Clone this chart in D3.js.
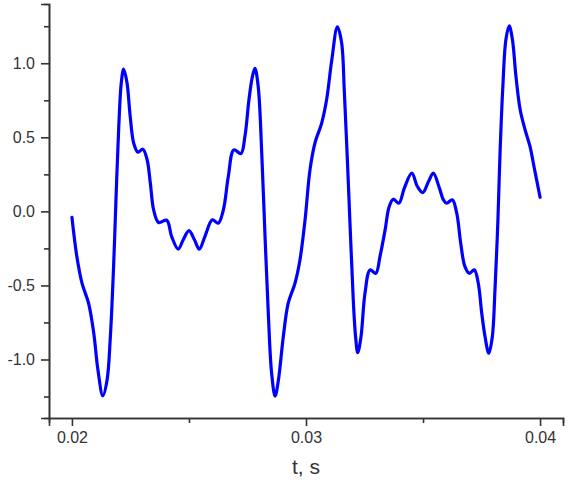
<!DOCTYPE html>
<html>
<head>
<meta charset="utf-8">
<script src="https://cdn.jsdelivr.net/npm/d3@7"></script>
<style>
  html, body { margin: 0; padding: 0; background: #ffffff; }
  svg { display: block; }
</style>
</head>
<body>
<svg id="chart" width="568" height="486"></svg>
<script>
// ---- data ----
const timeValues = [
  0.02000, 0.02021, 0.02043, 0.02071, 0.02093, 0.02111, 0.02132, 0.02150, 0.02164, 0.02178,
  0.02189, 0.02200, 0.02211, 0.02221, 0.02235, 0.02249, 0.02264, 0.02282, 0.02303, 0.02321,
  0.02335, 0.02349, 0.02370, 0.02405, 0.02426, 0.02454, 0.02476, 0.02500, 0.02523, 0.02544,
  0.02568, 0.02600, 0.02625, 0.02647, 0.02668, 0.02692, 0.02722, 0.02739, 0.02756, 0.02771,
  0.02782, 0.02796, 0.02811, 0.02825, 0.02839, 0.02853, 0.02868, 0.02882, 0.02903, 0.02924,
  0.02953, 0.02974, 0.02996, 0.03017, 0.03038, 0.03067, 0.03088, 0.03110, 0.03134, 0.03152,
  0.03164, 0.03178, 0.03191, 0.03202, 0.03212, 0.03221, 0.03235, 0.03252, 0.03274, 0.03298,
  0.03316, 0.03338, 0.03355, 0.03373, 0.03397, 0.03420, 0.03452, 0.03476, 0.03499, 0.03523,
  0.03544, 0.03570, 0.03587, 0.03601, 0.03625, 0.03644, 0.03661, 0.03679, 0.03698, 0.03719,
  0.03736, 0.03751, 0.03765, 0.03781, 0.03796, 0.03808, 0.03820, 0.03829, 0.03841, 0.03854,
  0.03868, 0.03882, 0.03897, 0.03915, 0.03936, 0.03957, 0.03974, 0.04000
];
const signalValues = [
  -0.04, -0.305, -0.485, -0.62, -0.82, -1.07, -1.245, -1.14, -0.85, -0.37,
  0.12, 0.57, 0.87, 0.96, 0.87, 0.64, 0.46, 0.40, 0.42, 0.35,
  0.19, 0.01, -0.075, -0.06, -0.17, -0.255, -0.19, -0.13, -0.19, -0.255,
  -0.17, -0.057, -0.08, 0.01, 0.235, 0.415, 0.39, 0.505, 0.75, 0.91,
  0.965, 0.84, 0.39, -0.17, -0.69, -1.09, -1.247, -1.14, -0.846, -0.62,
  -0.485, -0.33, -0.057, 0.28, 0.46, 0.596, 0.753, 1.02, 1.245, 1.14,
  0.80, 0.30, -0.20, -0.60, -0.85, -0.954, -0.846, -0.553, -0.395, -0.418,
  -0.305, -0.125, 0.03, 0.082, 0.055, 0.157, 0.258, 0.168, 0.127, 0.20,
  0.258, 0.157, 0.078, 0.055, 0.078, -0.012, -0.215, -0.373, -0.418, -0.395,
  -0.485, -0.69, -0.846, -0.958, -0.846, -0.508, -0.057, 0.393, 0.843, 1.159,
  1.253, 1.159, 0.911, 0.686, 0.551, 0.438, 0.303, 0.095
];
const xMajorTicks = [0.02, 0.03, 0.04];
const xMinorTicks = [0.025, 0.035];
const yMajorTicks = [-1.0, -0.5, 0.0, 0.5, 1.0];
const yMinorTicks = [-1.25, -0.75, -0.25, 0.25, 0.75, 1.25];
const xTitle = "t, s";

// ---- layout ----
const W = 568, H = 486;
const margin = { left: 49, right: 5, top: 4, bottom: 68 };
const svg = d3.select("#chart");

const x = d3.scaleLinear().domain([0.01902, 0.04098]).range([margin.left, W - margin.right]);
const y = d3.scaleLinear().domain([-1.395, 1.40]).range([H - margin.bottom, margin.top]);

const data = timeValues.map((t, i) => ({ t, v: signalValues[i] }));

const axisColor = "#333333";
const fontFamily = "'Liberation Sans', Arial, sans-serif";

// minor ticks
const gxMinor = svg.append("g")
  .attr("transform", `translate(0,${H - margin.bottom})`)
  .call(d3.axisBottom(x).tickValues(xMinorTicks).tickSize(5).tickFormat(""));
const gyMinor = svg.append("g")
  .attr("transform", `translate(${margin.left},0)`)
  .call(d3.axisLeft(y).tickValues(yMinorTicks).tickSize(5).tickFormat(""));

// major axes
const gx = svg.append("g")
  .attr("transform", `translate(0,${H - margin.bottom})`)
  .call(d3.axisBottom(x).tickValues(xMajorTicks).tickSize(8).tickPadding(6)
    .tickFormat(d => d.toFixed(2)));
const gy = svg.append("g")
  .attr("transform", `translate(${margin.left},0)`)
  .call(d3.axisLeft(y).tickValues(yMajorTicks).tickSize(8).tickPadding(6)
    .tickFormat(d => d.toFixed(1)));

[gxMinor, gyMinor, gx, gy].forEach(g => {
  g.selectAll("path.domain").attr("stroke", axisColor).attr("stroke-width", 1.6);
  g.selectAll(".tick line").attr("stroke", axisColor).attr("stroke-width", 1.6);
  g.selectAll(".tick text").attr("fill", "#333333")
    .style("font-family", fontFamily).style("font-size", "16px");
});

// axis title
svg.append("text")
  .attr("x", x(0.03))
  .attr("y", 474)
  .attr("text-anchor", "middle")
  .attr("fill", "#333333")
  .style("font-family", fontFamily)
  .style("font-size", "21px")
  .text(xTitle);

// line
const line = d3.line()
  .x(d => x(d.t))
  .y(d => y(d.v))
  .curve(d3.curveCatmullRom.alpha(0.5));

svg.append("path")
  .datum(data)
  .attr("fill", "none")
  .attr("stroke", "#0000ff")
  .attr("stroke-width", 3.2)
  .attr("stroke-linejoin", "round")
  .attr("stroke-linecap", "round")
  .attr("d", line);
</script>
</body>
</html>
